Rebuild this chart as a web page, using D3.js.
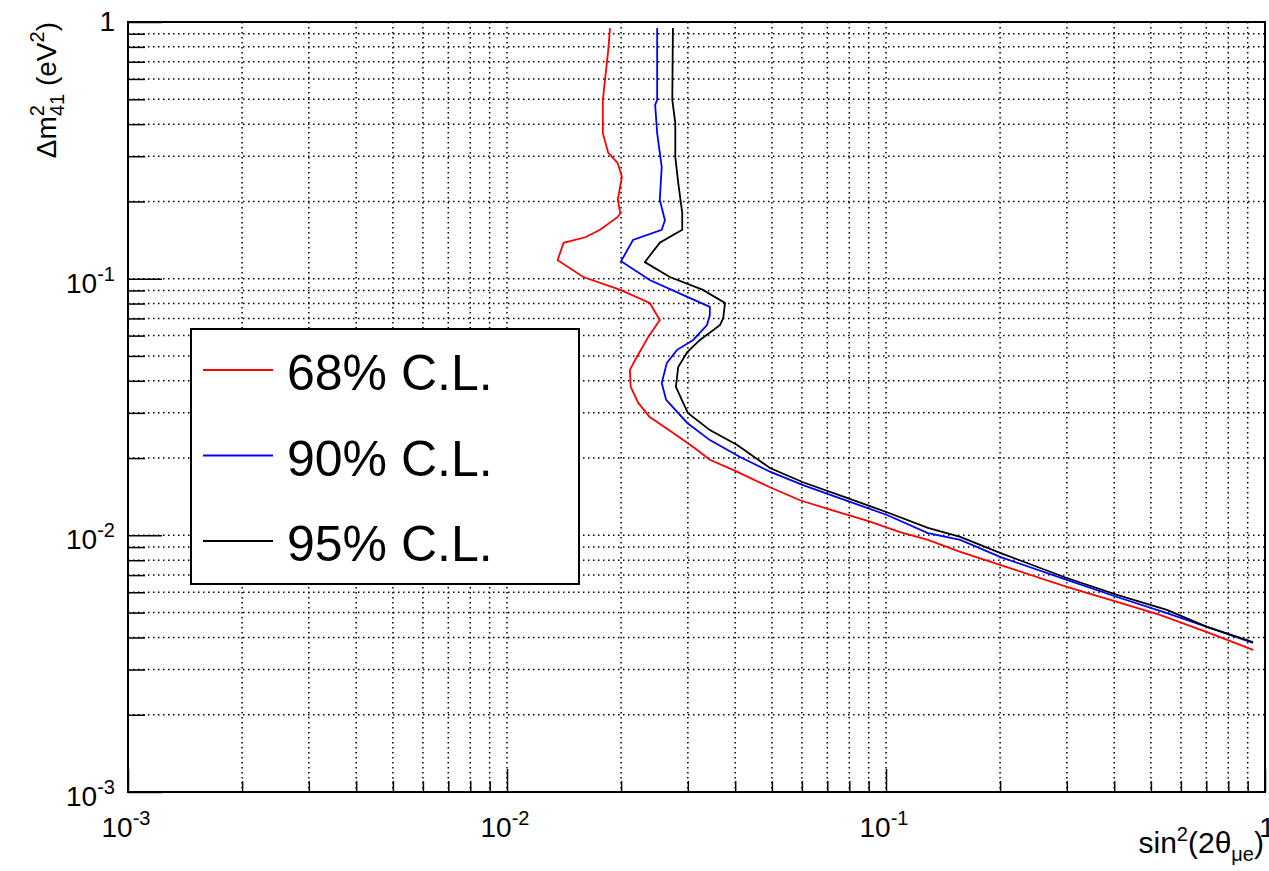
<!DOCTYPE html>
<html>
<head>
<meta charset="utf-8">
<script src="https://cdn.jsdelivr.net/npm/d3@7"></script>
<style>
    body { margin: 0; background: #fff; }
    svg { display: block; }
    text { font-family: "Liberation Sans", Arial, Helvetica, sans-serif; fill: #000; }
</style>
</head>
<body>
<script>
// contours [sin^2(2theta), dm^2]
var cl68 = [
    [0.0187, 0.947], [0.0185, 0.778], [0.0181, 0.578], [0.0179, 0.497], [0.0179, 0.369],
    [0.0185, 0.309], [0.0196, 0.282], [0.0201, 0.249], [0.0196, 0.203], [0.0199, 0.180],
    [0.0196, 0.174], [0.0176, 0.155], [0.0161, 0.145], [0.0141, 0.138], [0.0136, 0.118],
    [0.0159, 0.1015], [0.0199, 0.0904], [0.0238, 0.0804], [0.0253, 0.0690], [0.0236, 0.0593],
    [0.0220, 0.0495], [0.0211, 0.0441], [0.0212, 0.0379], [0.0222, 0.0328], [0.0238, 0.0289],
    [0.0274, 0.0251], [0.0310, 0.0221], [0.0343, 0.0197], [0.0395, 0.0180], [0.0494, 0.0154],
    [0.0593, 0.0137], [0.0712, 0.0126], [0.0908, 0.0113], [0.1089, 0.0103], [0.129, 0.0096],
    [0.157, 0.00862], [0.200, 0.00767], [0.300, 0.00630], [0.407, 0.00550], [0.528, 0.00490],
    [0.703, 0.00420], [0.93, 0.00358]
]
var cl90 = [
    [0.0249, 0.947], [0.0249, 0.497], [0.0246, 0.475], [0.0249, 0.369], [0.0256, 0.272],
    [0.0253, 0.203], [0.0261, 0.169], [0.0256, 0.155], [0.0215, 0.1415], [0.0200, 0.117],
    [0.0238, 0.0988], [0.0299, 0.0849], [0.0343, 0.0776], [0.0343, 0.0722], [0.0337, 0.0660],
    [0.0310, 0.0577], [0.0281, 0.0528], [0.0264, 0.0469], [0.0256, 0.0392], [0.0263, 0.0337],
    [0.0299, 0.0274], [0.0343, 0.0235], [0.0412, 0.0202], [0.0494, 0.0177], [0.0604, 0.0157],
    [0.0804, 0.0135], [0.1006, 0.0120], [0.129, 0.0102], [0.157, 0.0096], [0.200, 0.00824],
    [0.300, 0.00670], [0.407, 0.00575], [0.551, 0.00498], [0.703, 0.00440], [0.93, 0.00381]
]
var cl95 = [
    [0.0274, 0.947], [0.0273, 0.497], [0.0278, 0.404], [0.0278, 0.298], [0.0283, 0.236],
    [0.0290, 0.180], [0.0290, 0.155], [0.0253, 0.138], [0.0231, 0.116], [0.0269, 0.1015],
    [0.0329, 0.0904], [0.0376, 0.0804], [0.0372, 0.0703], [0.0365, 0.0660], [0.0323, 0.0577],
    [0.0299, 0.0518], [0.0283, 0.0453], [0.0279, 0.0379], [0.0300, 0.0300], [0.0343, 0.0257],
    [0.0405, 0.0225], [0.0494, 0.0183], [0.0604, 0.0161], [0.0789, 0.0140], [0.1006, 0.0123],
    [0.129, 0.0107], [0.157, 0.00986], [0.200, 0.00854], [0.300, 0.00682], [0.407, 0.00586],
    [0.551, 0.00512], [0.703, 0.00440], [0.93, 0.00384]
]

var seriesNames = ['68% C.L.', '90% C.L.', '95% C.L.']
var seriesColors = ['#ff0000', '#0000ff', '#000000']
var xMajor = [1e-3, 1e-2, 1e-1, 1]
var yMajor = [1e-3, 1e-2, 1e-1, 1]

var svgWidth = 1269,
    svgHeight = 871,
    plotLeft = 128,
    plotRight = 1265,
    plotTop = 22,
    plotBottom = 792

var svg = d3.select('body').append('svg')
    .attr('width', svgWidth)
    .attr('height', svgHeight)

var x = d3.scaleLog().domain([1e-3, 1]).range([plotLeft, plotRight])
var y = d3.scaleLog().domain([1e-3, 1]).range([plotBottom, plotTop])

// сетка (пунктир на всех делениях)
var grid = svg.append('g')
grid.selectAll('.gx')
    .data(x.ticks())
    .enter()
    .append('line')
    .attr('x1', d => x(d)).attr('x2', d => x(d))
    .attr('y1', plotTop).attr('y2', plotBottom)
grid.selectAll('.gy')
    .data(y.ticks())
    .enter()
    .append('line')
    .attr('y1', d => y(d)).attr('y2', d => y(d))
    .attr('x1', plotLeft).attr('x2', plotRight)
grid.selectAll('line')
    .style('stroke', '#000')
    .style('stroke-width', 1.5)
    .style('stroke-dasharray', '1.5,3.5')

function isMajor(d) {
    return Math.abs(Math.log10(d) - Math.round(Math.log10(d))) < 1e-6
}

// ось X
var gx = svg.append('g')
    .attr('transform', 'translate(0,' + plotBottom + ')')
    .call(d3.axisBottom(x).tickValues(x.ticks()).tickSize(-11).tickFormat(''))
gx.selectAll('.tick line')
    .attr('y2', d => (isMajor(d) ? -23 : -11))
    .attr('stroke', '#000')
    .attr('stroke-width', 1.5)
gx.select('.domain').remove()

// ось Y
var gy = svg.append('g')
    .attr('transform', 'translate(' + plotLeft + ',0)')
    .call(d3.axisLeft(y).tickValues(y.ticks()).tickSize(-17).tickFormat(''))
gy.selectAll('.tick line')
    .attr('x2', d => (isMajor(d) ? 34 : 17))
    .attr('stroke', '#000')
    .attr('stroke-width', 1.5)
gy.select('.domain').remove()

// подписи 10^n
function powLabel(sel, d) {
    var e = Math.round(Math.log10(d))
    if (e === 0) {
        sel.text('1')
        return
    }
    sel.append('tspan').text('10')
    sel.append('tspan')
        .attr('dy', -12)
        .style('font-size', '20px')
        .text('-' + Math.abs(e))
}

svg.append('g')
    .selectAll('text')
    .data(xMajor)
    .enter()
    .append('text')
    .attr('x', d => x(d) + (d === 1 ? 2 : -2))
    .attr('y', 837)
    .attr('text-anchor', 'middle')
    .style('font-size', '28px')
    .each(function (d) { powLabel(d3.select(this), d) })

svg.append('g')
    .selectAll('text')
    .data(yMajor)
    .enter()
    .append('text')
    .attr('x', 115)
    .attr('y', d => y(d) + (d === 1 ? 9 : 14))
    .attr('text-anchor', 'end')
    .style('font-size', '28px')
    .each(function (d) { powLabel(d3.select(this), d) })

// рамка
svg.append('rect')
    .attr('x', plotLeft).attr('y', plotTop)
    .attr('width', plotRight - plotLeft).attr('height', plotBottom - plotTop)
    .style('fill', 'none')
    .style('stroke', '#000')
    .style('stroke-width', 2)

// контуры
var line = d3.line()
    .x(d => x(d[0]))
    .y(d => y(d[1]))

svg.append('g')
    .selectAll('path')
    .data([cl68, cl90, cl95])
    .enter()
    .append('path')
    .attr('d', line)
    .style('fill', 'none')
    .style('stroke', (d, i) => seriesColors[i])
    .style('stroke-width', 1.8)

// подписи осей
var xt = svg.append('text')
    .attr('x', 1264)
    .attr('y', 853)
    .attr('text-anchor', 'end')
    .style('font-size', '30px')
xt.append('tspan').text('sin')
xt.append('tspan').attr('dy', -12).style('font-size', '20px').text('2')
xt.append('tspan').attr('dy', 12).text('(2θ')
xt.append('tspan').attr('dy', 8).style('font-size', '20px').text('μe')
xt.append('tspan').attr('dy', -8).text(')')

var yt = svg.append('text')
    .attr('transform', 'translate(56,22) rotate(-90)')
    .attr('text-anchor', 'end')
    .style('font-size', '28px')
yt.append('tspan').text('Δm')
yt.append('tspan').attr('dy', -12).style('font-size', '20px').text('2')
yt.append('tspan').attr('dy', 20).attr('dx', -11).style('font-size', '20px').text('41')
yt.append('tspan').attr('dy', -8).text(' (eV')
yt.append('tspan').attr('dy', -12).style('font-size', '20px').text('2')
yt.append('tspan').attr('dy', 12).text(')')

// легенда
var legend = svg.append('g')
legend.append('rect')
    .attr('x', 191).attr('y', 329)
    .attr('width', 388).attr('height', 255)
    .style('fill', '#fff')
    .style('stroke', '#000')
    .style('stroke-width', 2)

var item = legend.selectAll('.item')
    .data(seriesNames)
    .enter()
    .append('g')
    .attr('transform', (d, i) => 'translate(0,' + (370 + i * 85.5) + ')')
item.append('line')
    .attr('x1', 203).attr('x2', 273)
    .style('stroke', (d, i) => seriesColors[i])
    .style('stroke-width', 2)
item.append('text')
    .attr('x', 287)
    .attr('y', 20)
    .style('font-size', '50px')
    .text(d => d)
</script>
</body>
</html>
